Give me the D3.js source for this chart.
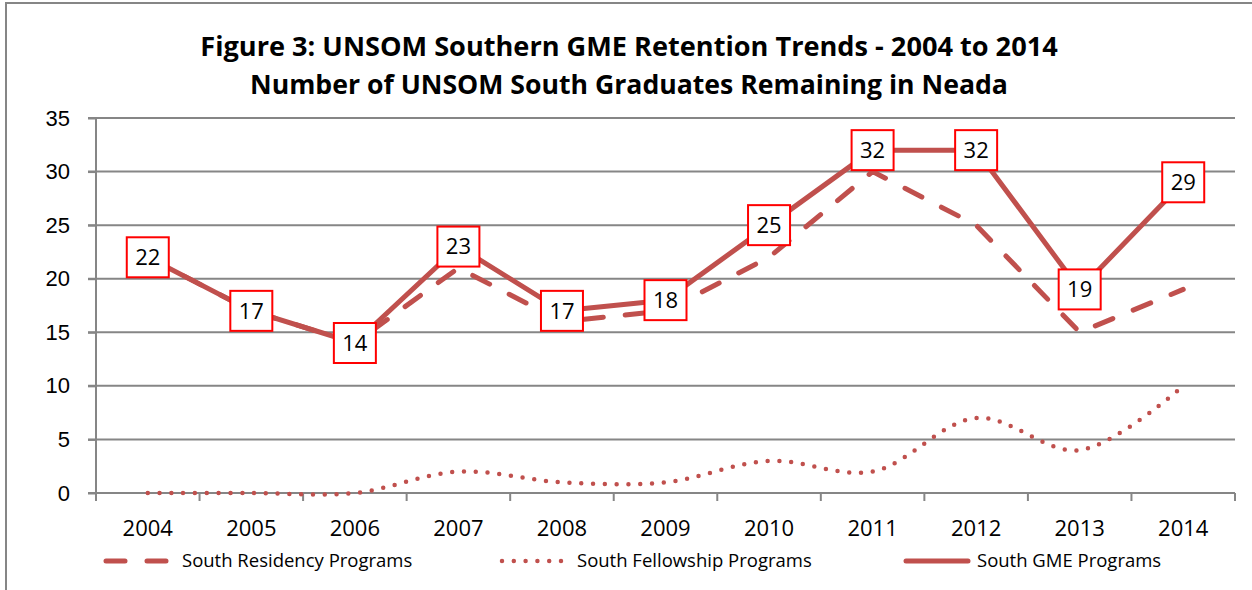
<!DOCTYPE html>
<html>
<head>
<meta charset="utf-8">
<script src="https://cdn.jsdelivr.net/npm/d3@7"></script>
<style>
  body { margin: 0; background: #fff; }
  svg { display: block; font-family: "Open Sans", sans-serif; }
</style>
</head>
<body>
<svg id="chart" width="1252" height="590"></svg>
<script>
// chart data
var years = ["2004","2005","2006","2007","2008","2009","2010","2011","2012","2013","2014"];
var residency = [22,17,14,21,16,17,22,30,25,15,19];
var fellowship = [0,0,0,2,1,1,3,2,7,4,10];
var gme = [22,17,14,23,17,18,25,32,32,19,29];
var yTicks = [0,5,10,15,20,25,30,35];
var titleLines = ["Figure 3: UNSOM Southern GME Retention Trends - 2004 to 2014",
                  "Number of UNSOM South Graduates Remaining in Neada"];
var seriesNames = ["South Residency Programs","South Fellowship Programs","South GME Programs"];

var red = "#C0504D";
var gridColor = "#868686";

var margin = {top: 118, left: 96, bottom: 97, right: 17};
var width = 1252 - margin.left - margin.right;
var height = 590 - margin.top - margin.bottom;

var root = d3.select("#chart");

// outer frame
root.append("rect")
    .attr("x", 6).attr("y", 3)
    .attr("width", 1260).attr("height", 600)
    .attr("fill", "none")
    .attr("stroke", gridColor)
    .attr("stroke-width", 2);

// title, fitted to the reference width
var titleWidths = [858, 758];
var titleY = [56, 94];
titleLines.forEach(function(t, i){
    var txt = root.append("text")
        .attr("x", 629)
        .attr("y", titleY[i])
        .attr("text-anchor", "middle")
        .style("font-weight", "bold")
        .style("font-size", "24px")
        .text(t);
    var w = txt.node().getComputedTextLength();
    txt.style("font-size", (24 * titleWidths[i] / w) + "px");
});

var svg = root.append("g")
    .attr("transform", "translate(" + margin.left + "," + margin.top + ")");

var xScale = d3.scaleBand().domain(years).range([0, width]);
var yScale = d3.scaleLinear().domain([0, 35]).range([height, 0]);

// gridlines
svg.append("g")
    .selectAll("line")
    .data(yTicks)
    .enter()
    .append("line")
    .attr("x1", -8)
    .attr("x2", width)
    .attr("y1", d => yScale(d))
    .attr("y2", d => yScale(d))
    .attr("stroke", gridColor)
    .attr("stroke-width", 2);

// y axis
var yAxis = d3.axisLeft(yScale).tickValues(yTicks).tickSize(8).tickPadding(18);
svg.append("g")
    .attr("class", "yaxis")
    .call(yAxis)
    .call(g => g.select(".domain").remove())
    .call(g => g.selectAll(".tick line").attr("stroke", gridColor).attr("stroke-width", 2))
    .call(g => g.selectAll(".tick text").style("font-size", "22px").attr("fill", "#000"));

svg.append("line")
    .attr("x1", 0).attr("x2", 0)
    .attr("y1", 0).attr("y2", height)
    .attr("stroke", gridColor)
    .attr("stroke-width", 2);

// x axis: ticks between categories
var xg = svg.append("g")
    .attr("transform", "translate(0," + height + ")");
xg.append("line")
    .attr("x1", 0).attr("x2", width)
    .attr("stroke", gridColor).attr("stroke-width", 2);
xg.selectAll(".xtick")
    .data(d3.range(years.length + 1))
    .enter()
    .append("line")
    .attr("x1", i => i * xScale.step())
    .attr("x2", i => i * xScale.step())
    .attr("y1", 0).attr("y2", 8)
    .attr("stroke", gridColor).attr("stroke-width", 2);
xg.selectAll(".xlabel")
    .data(years)
    .enter()
    .append("text")
    .attr("x", d => xScale(d) + xScale.bandwidth() / 2)
    .attr("y", 43)
    .attr("text-anchor", "middle")
    .style("font-size", "22px")
    .text(d => d);

var cx = (d, i) => xScale(years[i]) + xScale.bandwidth() / 2;

var line = d3.line()
    .x(cx)
    .y(d => yScale(d));

var smooth = d3.line()
    .x(cx)
    .y(d => yScale(d))
    .curve(d3.curveCatmullRom.alpha(0.5));

// residency (dashed)
svg.append("path")
    .attr("d", line(residency))
    .attr("fill", "none")
    .attr("stroke", red)
    .attr("stroke-width", 5)
    .attr("stroke-linecap", "round")
    .attr("stroke-dasharray", "19,22");

// fellowship (dotted, smoothed)
svg.append("path")
    .attr("d", smooth(fellowship))
    .attr("fill", "none")
    .attr("stroke", red)
    .attr("stroke-width", 4.5)
    .attr("stroke-linecap", "round")
    .attr("stroke-dasharray", "0,11.8");

// GME (solid)
svg.append("path")
    .attr("d", line(gme))
    .attr("fill", "none")
    .attr("stroke", red)
    .attr("stroke-width", 5)
    .attr("stroke-linejoin", "round");

// data labels
var labels = svg.selectAll(".lbl")
    .data(gme)
    .enter()
    .append("g")
    .attr("transform", (d, i) => "translate(" + cx(d, i) + "," + yScale(d) + ")");
labels.append("rect")
    .attr("x", -21).attr("y", -20)
    .attr("width", 42).attr("height", 40)
    .attr("fill", "#fff")
    .attr("stroke", "#FF0000")
    .attr("stroke-width", 2);
labels.append("text")
    .attr("text-anchor", "middle")
    .attr("dy", "0.36em")
    .style("font-size", "22px")
    .text(d => d);

// legend
var legendY = 561 - margin.top;
var legend = [
    {x0: 106, x1: 170, tx: 182, dash: "19,22", w: 5},
    {x0: 502, x1: 565, tx: 577, dash: "0,11.8", w: 4.5},
    {x0: 906, x1: 968, tx: 977, dash: null, w: 5}
];
legend.forEach(function(l, i){
    var ln = svg.append("line")
        .attr("x1", l.x0 - margin.left).attr("x2", l.x1 - margin.left)
        .attr("y1", legendY).attr("y2", legendY)
        .attr("stroke", red)
        .attr("stroke-width", l.w)
        .attr("stroke-linecap", "round");
    if (l.dash) ln.attr("stroke-dasharray", l.dash);
    svg.append("text")
        .attr("x", l.tx - margin.left)
        .attr("y", legendY)
        .attr("dy", "0.35em")
        .style("font-size", "18.5px")
        .text(seriesNames[i]);
});
</script>
</body>
</html>
